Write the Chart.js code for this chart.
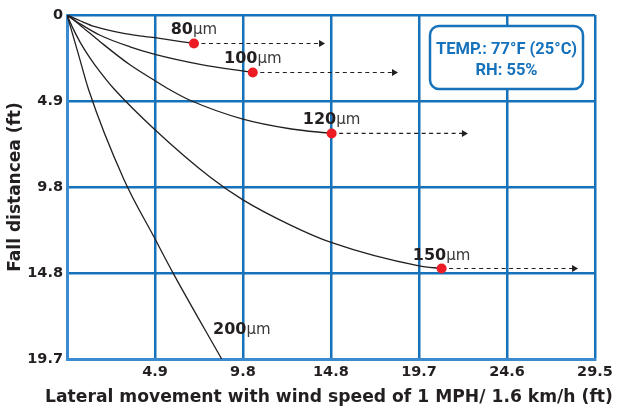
<!DOCTYPE html>
<html>
<head>
<meta charset="utf-8">
<script src="https://cdn.jsdelivr.net/npm/chart.js@4.4.1/dist/chart.umd.min.js"></script>
<style>
  html, body { margin: 0; padding: 0; background: #ffffff; }
  #wrap { width: 618px; height: 411px; }
</style>
</head>
<body>
<div id="wrap"><canvas id="c" width="618" height="411"></canvas></div>
<script>
// ---- tick values / labels (ft) ----
const xTickValues = [0, 4.92, 9.84, 14.76, 19.69, 24.61, 29.53];
const xTickLabels = ['', '4.9', '9.8', '14.8', '19.7', '24.6', '29.5'];
const yTickValues = [0, 4.92, 9.84, 14.76, 19.69];
const yTickLabels = ['0', '4.9', '9.8', '14.8', '19.7'];

const xTitle = 'Lateral movement with wind speed of 1 MPH/ 1.6 km/h (ft)';
const yTitle = 'Fall distancea (ft)';

// ---- droplet sizes ----
const sizes = ['80', '100', '120', '150', '200'];

// ---- trajectories (lateral ft, fall ft) ----
const curve80X  = [0, 0.73, 1.57, 3.24, 4.92, 7.10];
const curve80Y  = [0, 0.33, 0.67, 1.07, 1.30, 1.63];
const curve100X = [0, 0.73, 1.85, 3.52, 4.92, 7.44, 10.39];
const curve100Y = [0, 0.50, 1.16, 1.82, 2.25, 2.82, 3.29];
const curve120X = [0, 0.73, 1.85, 3.52, 4.92, 5.76, 6.88, 9.84, 12.47, 14.80];
const curve120Y = [0, 0.58, 1.53, 2.85, 3.76, 4.28, 4.88, 5.96, 6.51, 6.78];
const curve150X = [0, 0.28, 0.73, 1.29, 1.85, 2.61, 4.92, 8.05, 9.84, 12.47, 14.77, 19.69, 20.95];
const curve150Y = [0, 0.65, 1.55, 2.47, 3.26, 4.21, 6.57, 9.32, 10.58, 12.01, 13.02, 14.36, 14.51];
const curve200X = [0, 0.62, 1.21, 3.19, 4.92, 5.95, 8.65];
const curve200Y = [0, 2.18, 4.28, 9.43, 12.81, 14.80, 19.69];

// ---- end points (red dots) and drift arrows ----
const dotX   = [7.10, 10.39, 14.80, 20.95];
const dotY   = [1.63, 3.29, 6.78, 14.51];
const arrowX = [14.21, 18.29, 22.20, 28.36];
const label200X = 8.17;
const label200Y = 17.9;

const infoLines = ['TEMP.: 77°F (25°C)', 'RH: 55%'];

const ink = '#231f20';
const blue = '#1672bb';

const zip = (xs, ys) => xs.map((x, i) => ({ x: x, y: ys[i] }));

const curves = [
  [curve80X, curve80Y], [curve100X, curve100Y], [curve120X, curve120Y],
  [curve150X, curve150Y], [curve200X, curve200Y]
];

const datasets = [];
datasets.push({
  label: 'ends',
  data: zip(dotX, dotY),
  showLine: false,
  pointRadius: 5,
  pointHoverRadius: 5,
  pointBackgroundColor: '#ed1c24',
  pointBorderWidth: 0,
  borderColor: '#ed1c24'
});
dotX.forEach((x, i) => {
  datasets.push({
    label: 'drift ' + sizes[i],
    data: [{ x: x, y: dotY[i] }, { x: arrowX[i], y: dotY[i] }],
    showLine: true,
    borderColor: ink,
    borderWidth: 1.2,
    borderDash: [4, 3.5],
    pointRadius: [0, 4],
    pointStyle: 'triangle',
    rotation: 90,
    pointBackgroundColor: ink,
    pointBorderColor: ink,
    pointBorderWidth: 0
  });
});
curves.forEach((c, i) => {
  datasets.push({
    label: sizes[i] + 'µm',
    data: zip(c[0], c[1]),
    showLine: true,
    borderColor: ink,
    borderWidth: 1.3,
    pointRadius: 0,
    cubicInterpolationMode: 'monotone'
  });
});

const overlay = {
  id: 'overlay',
  afterDatasetsDraw(chart) {
    const ctx = chart.ctx;
    const xs = chart.scales.x, ys = chart.scales.y;
    const ca = chart.chartArea;
    ctx.save();
    // size labels
    const drawLabel = (num, cx, baseY, align) => {
      ctx.font = 'bold 16px "DejaVu Sans"';
      const w1 = ctx.measureText(num).width;
      ctx.font = '15px "DejaVu Sans"';
      const w2 = ctx.measureText('µm').width;
      let x0 = align === 'left' ? cx : cx - (w1 + w2) / 2;
      ctx.textBaseline = 'alphabetic';
      ctx.textAlign = 'left';
      ctx.fillStyle = ink;
      ctx.font = 'bold 16px "DejaVu Sans"';
      ctx.fillText(num, x0, baseY);
      ctx.fillStyle = '#3a3a3a';
      ctx.font = '15px "DejaVu Sans"';
      ctx.fillText('µm', x0 + w1, baseY);
    };
    dotX.forEach((x, i) => {
      const px = xs.getPixelForValue(x);
      const py = ys.getPixelForValue(dotY[i]);
      drawLabel(sizes[i], px, py - 9, 'center');
    });
    drawLabel(sizes[4], xs.getPixelForValue(label200X), ys.getPixelForValue(label200Y) + 6, 'left');

    // info box
    const bx = ca.right - 165, by = ca.top + 11, bw = 153, bh = 63, r = 9;
    ctx.beginPath();
    ctx.moveTo(bx + r, by);
    ctx.arcTo(bx + bw, by, bx + bw, by + bh, r);
    ctx.arcTo(bx + bw, by + bh, bx, by + bh, r);
    ctx.arcTo(bx, by + bh, bx, by, r);
    ctx.arcTo(bx, by, bx + bw, by, r);
    ctx.closePath();
    ctx.fillStyle = '#ffffff';
    ctx.fill();
    ctx.lineWidth = 2.5;
    ctx.strokeStyle = blue;
    ctx.stroke();
    ctx.fillStyle = blue;
    ctx.font = 'bold 16.5px Roboto';
    ctx.textAlign = 'center';
    ctx.textBaseline = 'middle';
    ctx.fillText(infoLines[0], bx + bw / 2, by + 23.5);
    ctx.fillText(infoLines[1], bx + bw / 2, by + 45);

    // x axis title (drawn wider than the plot, as in the reference)
    ctx.font = 'bold 17px "DejaVu Sans"';
    const natural = ctx.measureText(xTitle).width;
    const size = Math.min(19, 17 * 568 / natural);
    ctx.font = 'bold ' + size.toFixed(2) + 'px "DejaVu Sans"';
    ctx.fillStyle = ink;
    ctx.textAlign = 'center';
    ctx.textBaseline = 'middle';
    ctx.fillText(xTitle, (ca.left + ca.right) / 2 - 2, chart.height - 13);
    ctx.restore();
  }
};

new Chart(document.getElementById('c'), {
  type: 'scatter',
  data: { datasets: datasets },
  plugins: [overlay],
  options: {
    responsive: false,
    animation: false,
    events: [],
    layout: { padding: { top: 15, right: 23, left: 0, bottom: 0 } },
    plugins: { legend: { display: false }, tooltip: { enabled: false } },
    scales: {
      x: {
        type: 'linear',
        min: 0,
        max: 29.53,
        afterBuildTicks: (s) => { s.ticks = xTickValues.map(v => ({ value: v })); },
        afterFit: (s) => { s.height = 52; },
        ticks: {
          autoSkip: false,
          maxRotation: 0,
          padding: 5,
          color: ink,
          font: { family: 'DejaVu Sans', weight: 'bold', size: 14.5 },
          callback: (v, i) => xTickLabels[i]
        },
        grid: { color: blue, lineWidth: 2.5, drawTicks: false, tickLength: 0 },
        border: { display: true, color: '#3a8bd0', width: 3 },
        title: { display: false }
      },
      y: {
        type: 'linear',
        reverse: true,
        min: 0,
        max: 19.69,
        afterBuildTicks: (s) => { s.ticks = yTickValues.map(v => ({ value: v })); },
        afterFit: (s) => { s.width = 67; },
        ticks: {
          autoSkip: false,
          padding: 4,
          color: ink,
          font: { family: 'DejaVu Sans', weight: 'bold', size: 14.5 },
          callback: (v, i) => yTickLabels[i]
        },
        grid: { color: blue, lineWidth: 2.5, drawTicks: false, tickLength: 0 },
        border: { display: true, color: '#3a8bd0', width: 3 },
        title: {
          display: true,
          text: yTitle,
          color: ink,
          font: { family: 'DejaVu Sans', weight: 'bold', size: 17 },
          padding: { top: 5, bottom: 0 }
        }
      }
    }
  }
});
</script>
</body>
</html>
